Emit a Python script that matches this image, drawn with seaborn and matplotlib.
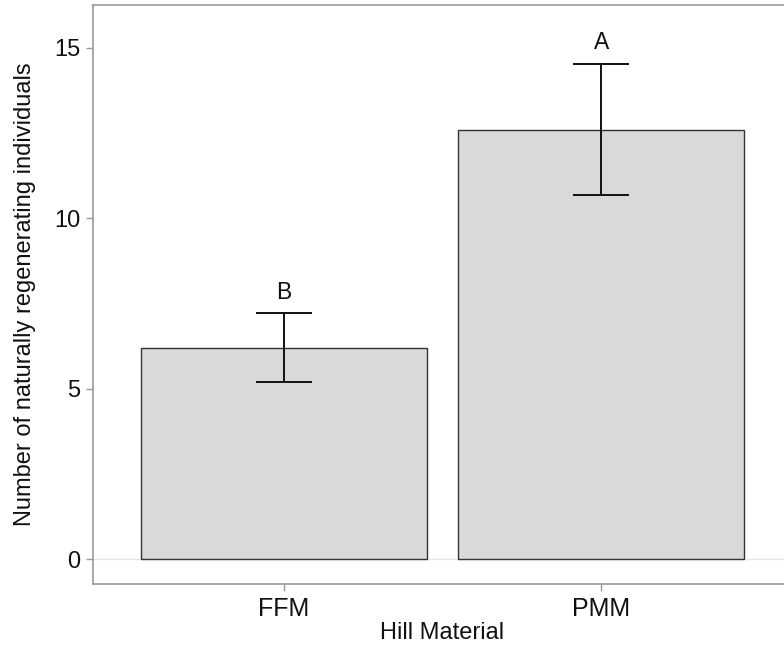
import matplotlib
matplotlib.use("Agg")
import matplotlib.pyplot as plt
import seaborn as sns
import pandas as pd

categories = ["FFM", "PMM"]
means = [6.19, 12.58]
err_low = [5.19, 10.67]
err_high = [7.22, 14.53]
letters = ["B", "A"]

sns.set_theme(style="white")
plt.rcParams['font.family'] = ['Liberation Sans', 'DejaVu Sans']

df = pd.DataFrame({"Hill Material": categories, "Count": means})

fig = plt.figure(figsize=(7.84, 6.48), dpi=100)
ax = fig.add_axes([93/784, 1 - 584/648, 1 - 93/784 + 0.01, (584 - 5)/648])

sns.barplot(data=df, x="Hill Material", y="Count", order=categories,
            color="#d9d9d9", width=0.9, edgecolor="#333333", linewidth=1.0,
            errorbar=None, ax=ax, saturation=1)

xs = list(range(len(categories)))
yerr = [[m - lo for m, lo in zip(means, err_low)],
        [hi - m for m, hi in zip(means, err_high)]]
ax.errorbar(xs, means, yerr=yerr, fmt="none", ecolor="#111111",
            elinewidth=1.4, capsize=20, capthick=1.4, zorder=5)
for x, hi, lab in zip(xs, err_high, letters):
    ax.text(x, hi + 0.42, lab, ha="center", va="baseline", fontsize=16.5, color="#111111")

ax.axhline(0, color="#e6e6e6", lw=1.0, zorder=0)
ax.set_xlim(-0.6, 1.6)
ax.set_ylim(-0.73, 16.25)
ax.set_yticks([0, 5, 10, 15])
ax.tick_params(axis="both", colors="#999999", length=5,
               width=1, labelcolor="#111111", direction="out",
               bottom=True, left=True)
ax.tick_params(axis="x", labelsize=18, pad=4)
ax.tick_params(axis="y", labelsize=17, pad=4)
for s in ["left", "bottom", "top"]:
    ax.spines[s].set_color("#999999")
    ax.spines[s].set_linewidth(1.2)
ax.spines["right"].set_visible(False)
ax.set_xlabel("Hill Material", fontsize=17, color="#111111", labelpad=1)
ax.set_ylabel("Number of naturally regenerating individuals", fontsize=17,
              color="#111111", labelpad=13)

fig.savefig("out.png", dpi=100)
